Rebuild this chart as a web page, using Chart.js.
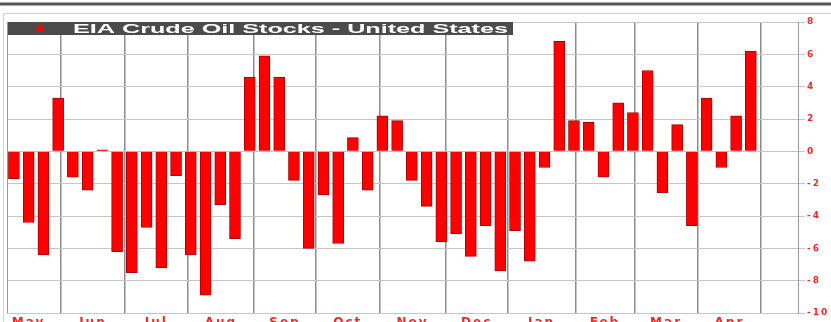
<!DOCTYPE html>
<html>
<head>
<meta charset="utf-8">
<script src="https://cdn.jsdelivr.net/npm/chart.js@4.4.1/dist/chart.umd.min.js"></script>
<style>
  html, body { margin: 0; padding: 0; background: #fff; overflow: hidden; }
  #wrap { width: 831px; height: 330px; }
</style>
</head>
<body>
<div id="wrap"><canvas id="stocksChart" width="831" height="330"></canvas></div>
<script>
// weekly change in US crude oil stocks (million barrels)
const weeklyChange = [
  -1.7, -4.4, -6.4, 3.3, -1.6, -2.4, 0.1, -6.2, -7.5, -4.7,
  -7.2, -1.5, -6.4, -8.9, -3.3, -5.4, 4.6, 5.9, 4.6, -1.8,
  -6.0, -2.7, -5.7, 0.85, -2.4, 2.2, 1.9, -1.8, -3.4, -5.6,
  -5.1, -6.5, -4.6, -7.4, -4.9, -6.8, -1.0, 6.8, 1.9, 1.8,
  -1.6, 3.0, 2.4, 5.0, -2.55, 1.65, -4.6, 3.3, -1.0, 2.2,
  6.2
];
const months = ["May", "Jun", "Jul", "Aug", "Sep", "Oct", "Nov", "Dec", "Jan", "Feb", "Mar", "Apr"];
// week index at which each month begins (last entry = start of May)
const monthStarts = [-1.2, 3.19, 7.53, 11.8, 16.28, 20.5, 24.8, 29.3, 33.5, 38.1, 42.1, 46.4, 50.7];
const yTicks = [8, 6, 4, 2, 0, -2, -4, -6, -8, -10];
const chartTitle = "EIA Crude Oil Stocks - United States";

const labelRed = "#ee2b2b";

const framePlugin = {
  id: "frame",
  beforeDraw(chart) {
    const ctx = chart.ctx;
    ctx.save();
    ctx.fillStyle = "#555";
    ctx.fillRect(0, 2.5, chart.width, 3);
    ctx.strokeStyle = "#d4d4d4";
    ctx.lineWidth = 1;
    ctx.beginPath();
    ctx.moveTo(3.5, chart.height);
    ctx.lineTo(3.5, 13.5);
    ctx.lineTo(chart.width, 13.5);
    ctx.stroke();
    ctx.restore();
    ctx.letterSpacing = "2px";
  },
  afterDraw(chart) {
    const { ctx, chartArea } = chart;
    ctx.save();
    ctx.letterSpacing = "0px";
    // left border of the plot
    ctx.strokeStyle = "#999";
    ctx.lineWidth = 1;
    ctx.beginPath();
    ctx.moveTo(chartArea.left + 0.5, chartArea.top);
    ctx.lineTo(chartArea.left + 0.5, chartArea.bottom);
    ctx.stroke();
    // title strip
    const x0 = chartArea.left + 1;
    const y0 = chartArea.top;
    ctx.fillStyle = "#4b4b4b";
    ctx.fillRect(x0, y0, 505, 13);
    ctx.fillStyle = "#ff0000";
    ctx.beginPath();
    ctx.arc(x0 + 32, y0 + 6.5, 3.5, 0, Math.PI * 2);
    ctx.fill();
    ctx.font = "bold 13px 'Liberation Sans', Arial, sans-serif";
    ctx.fillStyle = "#fff";
    ctx.textBaseline = "middle";
    const w = ctx.measureText(chartTitle).width;
    ctx.translate(x0 + 65, y0 + 7);
    ctx.scale(435 / w, 1);
    ctx.fillText(chartTitle, 0, 0);
    ctx.restore();
  }
};

function buildMonthTicks(scale) {
  const ticks = [];
  monthStarts.forEach((start, i) => {
    if (i > 0 && start > scale.min && start < scale.max) ticks.push({ value: start });
    if (i < months.length) {
      ticks.push({ value: (start + monthStarts[i + 1]) / 2, name: months[i] });
    }
  });
  ticks.sort((a, b) => a.value - b.value);
  scale.ticks = ticks;
}

const ctx = document.getElementById("stocksChart");

new Chart(ctx, {
  type: "bar",
  data: {
    datasets: [
      {
        label: chartTitle,
        data: weeklyChange.map((v, i) => ({ x: i, y: v })),
        backgroundColor: "#ff0000",
        borderColor: "#a80000",
        borderWidth: 1,
        barThickness: 11,
      },
    ],
  },
  options: {
    responsive: false,
    animation: false,
    layout: { padding: { left: 7, top: 22, right: 0, bottom: 0 } },
    scales: {
      x: {
        type: "linear",
        min: -0.47,
        max: 53.2,
        offset: false,
        afterBuildTicks: buildMonthTicks,
        afterFit: (scale) => { scale.height = 17; },
        border: { display: false },
        grid: {
          offset: false,
          drawTicks: false,
          lineWidth: 1.5,
          color: (c) => (c.tick && c.tick.name ? "rgba(0,0,0,0)" : "#8c8c8c"),
        },
        ticks: {
          autoSkip: false,
          maxRotation: 0,
          minRotation: 0,
          padding: 3,
          color: labelRed,
          font: { family: "'DejaVu Sans', sans-serif", size: 12, weight: "bold" },
          callback: (value, i, ticks) => ticks[i].name || "",
        },
      },
      y: {
        position: "right",
        min: -10,
        max: 8,
        afterBuildTicks: (scale) => { scale.ticks = yTicks.map((v) => ({ value: v })); },
        afterFit: (scale) => { scale.width = 33; },
        border: { display: true, color: "#999" },
        grid: { color: "#c6c6c6", tickLength: 7 },
        ticks: {
          padding: 2,
          color: labelRed,
          font: { family: "'DejaVu Sans', sans-serif", size: 9, weight: "bold" },
        },
      },
    },
    plugins: {
      legend: { display: false },
      tooltip: { enabled: false },
    },
  },
  plugins: [framePlugin],
});
</script>
</body>
</html>
